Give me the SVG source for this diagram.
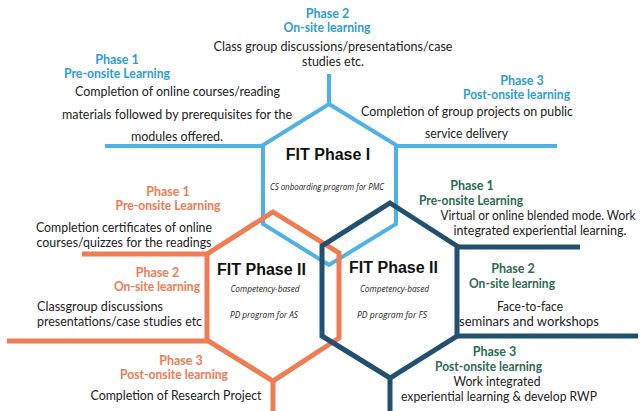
<svg xmlns="http://www.w3.org/2000/svg" width="643" height="411" viewBox="0 0 643 411">
<style>
.hex{fill:none;stroke-linejoin:miter}
.b{stroke:#4fb2e6;stroke-width:4}
.o{stroke:#f07c53;stroke-width:5}
.d{stroke:#22506f;stroke-width:5}
text{font-family:Lato,"Noto Sans","Liberation Sans",sans-serif}
.body{font-size:13px;fill:#222}
.hb{font-size:12.5px;font-weight:bold;fill:#2b9dd8}
.ho{font-size:12.5px;font-weight:bold;fill:#f27b52}
.hd{font-size:12.5px;font-weight:bold;fill:#2c6b54}
.title{font-family:"Liberation Sans",Arial,sans-serif;font-size:16px;font-weight:bold;fill:#111}
.sub{font-family:"Open Sans","Noto Sans",sans-serif;font-size:8.5px;font-style:italic;fill:#222}
</style>
<rect width="643" height="411" fill="#ffffff"/>
<g id="connectors" fill="none">
<path class="b" d="M329,105 V74 M264,146 H105 M395,146 H557"/>
<path class="o" d="M208,254 H82 M208,341 H7 M273,380 V411"/>
<path class="d" d="M456,247 H580 M456,336 H638 M390,377 V411"/>
</g>
<g id="fit-phase-1">
<path class="hex b" d="M329,104 L396,145 L396,224 L329,265 L263,224 L263,145 Z"/>
<text class="title" x="328" y="160" text-anchor="middle">FIT Phase I</text>
<text class="sub" x="327" y="190" text-anchor="middle" textLength="114" lengthAdjust="spacingAndGlyphs">CS onboarding program for PMC</text>
</g>
<g id="fit-phase-2-as">
<path class="hex o" d="M273,212 L339,253 L339,338 L273,381 L207,340 L207,254 Z"/>
<text class="title" x="261.5" y="275" text-anchor="middle">FIT Phase II</text>
<text class="sub" x="265" y="292" text-anchor="middle" textLength="69" lengthAdjust="spacingAndGlyphs">Competency-based</text>
<text class="sub" x="264" y="318" text-anchor="middle" textLength="68" lengthAdjust="spacingAndGlyphs">PD program for AS</text>
</g>
<g id="fit-phase-2-fs">
<path class="hex d" d="M390,203 L457,246 L457,336 L390,378 L322,336 L322,246 Z"/>
<text class="title" x="393.5" y="273" text-anchor="middle">FIT Phase II</text>
<text class="sub" x="394.5" y="292" text-anchor="middle" textLength="69" lengthAdjust="spacingAndGlyphs">Competency-based</text>
<text class="sub" x="392" y="318" text-anchor="middle" textLength="70" lengthAdjust="spacingAndGlyphs">PD program for FS</text>
</g>
<g id="p1-phase1">
<text class="hb" x="117" y="64" text-anchor="middle">Phase 1</text>
<text class="hb" x="117" y="78" text-anchor="middle" textLength="106" lengthAdjust="spacingAndGlyphs">Pre-onsite Learning</text>
<text class="body" x="177.5" y="96" text-anchor="middle" textLength="205" lengthAdjust="spacingAndGlyphs">Completion of online courses/reading</text>
<text class="body" x="177" y="119" text-anchor="middle" textLength="230" lengthAdjust="spacingAndGlyphs">materials followed by prerequisites for the</text>
<text class="body" x="177" y="141" text-anchor="middle" textLength="92" lengthAdjust="spacingAndGlyphs">modules offered.</text>
</g>
<g id="p1-phase2">
<text class="hb" x="327.5" y="18" text-anchor="middle">Phase 2</text>
<text class="hb" x="327" y="32" text-anchor="middle" textLength="87" lengthAdjust="spacingAndGlyphs">On-site learning</text>
<text class="body" x="333" y="51" text-anchor="middle" textLength="239" lengthAdjust="spacingAndGlyphs">Class group discussions/presentations/case</text>
<text class="body" x="333" y="66" text-anchor="middle" textLength="62" lengthAdjust="spacingAndGlyphs">studies etc.</text>
</g>
<g id="p1-phase3">
<text class="hb" x="522" y="85" text-anchor="middle">Phase 3</text>
<text class="hb" x="516.5" y="99" text-anchor="middle" textLength="107" lengthAdjust="spacingAndGlyphs">Post-onsite learning</text>
<text class="body" x="467" y="116" text-anchor="middle" textLength="212" lengthAdjust="spacingAndGlyphs">Completion of group projects on public</text>
<text class="body" x="466.5" y="138" text-anchor="middle" textLength="83" lengthAdjust="spacingAndGlyphs">service delivery</text>
</g>
<g id="as-phase1">
<text class="ho" x="168" y="196" text-anchor="middle">Phase 1</text>
<text class="ho" x="168" y="210" text-anchor="middle" textLength="105" lengthAdjust="spacingAndGlyphs">Pre-onsite Learning</text>
<text class="body" x="124" y="232" text-anchor="middle" textLength="176" lengthAdjust="spacingAndGlyphs">Completion certificates of online</text>
<text class="body" x="124" y="247" text-anchor="middle" textLength="175" lengthAdjust="spacingAndGlyphs">courses/quizzes for the readings</text>
</g>
<g id="as-phase2">
<text class="ho" x="157.5" y="277" text-anchor="middle">Phase 2</text>
<text class="ho" x="157" y="291" text-anchor="middle" textLength="86" lengthAdjust="spacingAndGlyphs">On-site learning</text>
<text class="body" x="37" y="311" textLength="126" lengthAdjust="spacingAndGlyphs">Classgroup discussions</text>
<text class="body" x="37" y="326" textLength="165" lengthAdjust="spacingAndGlyphs">presentations/case studies etc</text>
</g>
<g id="as-phase3">
<text class="ho" x="181" y="365" text-anchor="middle">Phase 3</text>
<text class="ho" x="174" y="379" text-anchor="middle" textLength="108" lengthAdjust="spacingAndGlyphs">Post-onsite learning</text>
<text class="body" x="176" y="400" text-anchor="middle" textLength="171" lengthAdjust="spacingAndGlyphs">Completion of Research Project</text>
</g>
<g id="fs-phase1">
<text class="hd" x="472" y="190" text-anchor="middle">Phase 1</text>
<text class="hd" x="471" y="205" text-anchor="middle" textLength="104" lengthAdjust="spacingAndGlyphs">Pre-onsite Learning</text>
<text class="body" x="538" y="220" text-anchor="middle" font-size="12.5" textLength="195" lengthAdjust="spacingAndGlyphs">Virtual or online blended mode. Work</text>
<text class="body" x="540" y="235" text-anchor="middle" font-size="12.5" textLength="173" lengthAdjust="spacingAndGlyphs">integrated experiential learning.</text>
</g>
<g id="fs-phase2">
<text class="hd" x="513" y="273" text-anchor="middle">Phase 2</text>
<text class="hd" x="512" y="288" text-anchor="middle" textLength="86" lengthAdjust="spacingAndGlyphs">On-site learning</text>
<text class="body" x="530" y="311" text-anchor="middle" textLength="66" lengthAdjust="spacingAndGlyphs">Face-to-face</text>
<text class="body" x="529" y="326" text-anchor="middle" textLength="140" lengthAdjust="spacingAndGlyphs">seminars and workshops</text>
</g>
<g id="fs-phase3">
<text class="hd" x="494.5" y="356" text-anchor="middle">Phase 3</text>
<text class="hd" x="488.5" y="371" text-anchor="middle" textLength="107" lengthAdjust="spacingAndGlyphs">Post-onsite learning</text>
<text class="body" x="497" y="386" text-anchor="middle" textLength="87" lengthAdjust="spacingAndGlyphs">Work integrated</text>
<text class="body" x="499" y="401" text-anchor="middle" textLength="196" lengthAdjust="spacingAndGlyphs">experiential learning &amp; develop RWP</text>
</g>
</svg>
